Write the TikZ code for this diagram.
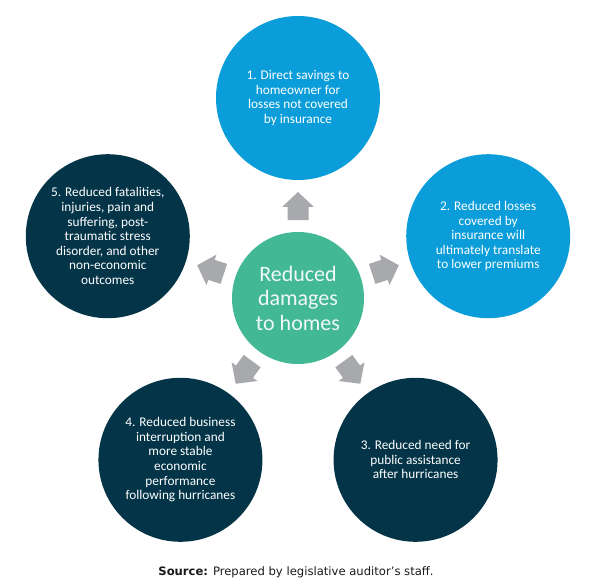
\documentclass[tikz,border=0pt]{standalone}
\usepackage{fontspec}
\setmainfont{Carlito}
\newfontfamily\srcfont{DejaVu Sans}
\usepackage{xcolor}
\usetikzlibrary{calc}

\definecolor{skyblue}{HTML}{0A9DD9}
\definecolor{deepteal}{HTML}{033447}
\definecolor{hubgreen}{HTML}{43B894}
\definecolor{arrowgray}{HTML}{A7A9AC}

\tikzset{
  outcome/.style={circle, minimum size=164pt, inner sep=0pt, text=white,
    align=center, font=\fontsize{13.3}{14.6}\selectfont},
  hubnode/.style={circle, fill=hubgreen, minimum size=132pt, inner sep=0pt,
    text=white!92!hubgreen, align=center, font=\fontsize{22}{24.5}\selectfont},
  blockarrow/.style={fill=arrowgray}
}

\begin{document}
\begin{tikzpicture}[x=1pt, y=1pt]
\useasboundingbox (0,0) rectangle (593,587);
% ---- centre ----
\node[hubnode] (hub) at (298,289) {Reduced\\damages\\to homes};
% ---- five outcomes on a pentagon ----
\node[outcome, fill=skyblue] (savings) at ($(hub)+(90:200)$)
  {1. Direct savings to\\homeowner for\\losses not covered\\by insurance};
\node[outcome, fill=skyblue] (premiums) at ($(hub)+(18:200)$)
  {2. Reduced losses\\covered by\\insurance will\\ultimately translate\\to lower premiums};
\node[outcome, fill=deepteal] (assist) at ($(hub)+(-54:200)$)
  {3. Reduced need for\\public assistance\\after hurricanes};
\node[outcome, fill=deepteal] (business) at ($(hub)+(-126:200)$)
  {4. Reduced business\\interruption and\\more stable\\economic\\performance\\following hurricanes};
\node[outcome, fill=deepteal] (fatal) at ($(hub)+(162:200)$)
  {5. Reduced fatalities,\\injuries, pain and\\suffering, post-\\traumatic stress\\disorder, and other\\non-economic\\outcomes};
% ---- block arrows pointing outwards ----
\foreach \a in {90,18,-54,-126,162} {
  \begin{scope}[shift={(hub.center)}, rotate=\a-90]
    \fill[blockarrow] (-10.5,78) -- (-10.5,91) -- (-16,91) -- (0,106)
      -- (16,91) -- (10.5,91) -- (10.5,78) -- cycle;
  \end{scope}
}
% ---- source line ----
\node[font=\srcfont\fontsize{11.6}{13}\selectfont, text=black!90] (source) at (296,15)
  {\textbf{Source:} Prepared by legislative auditor’s staff.};
\end{tikzpicture}
\end{document}
